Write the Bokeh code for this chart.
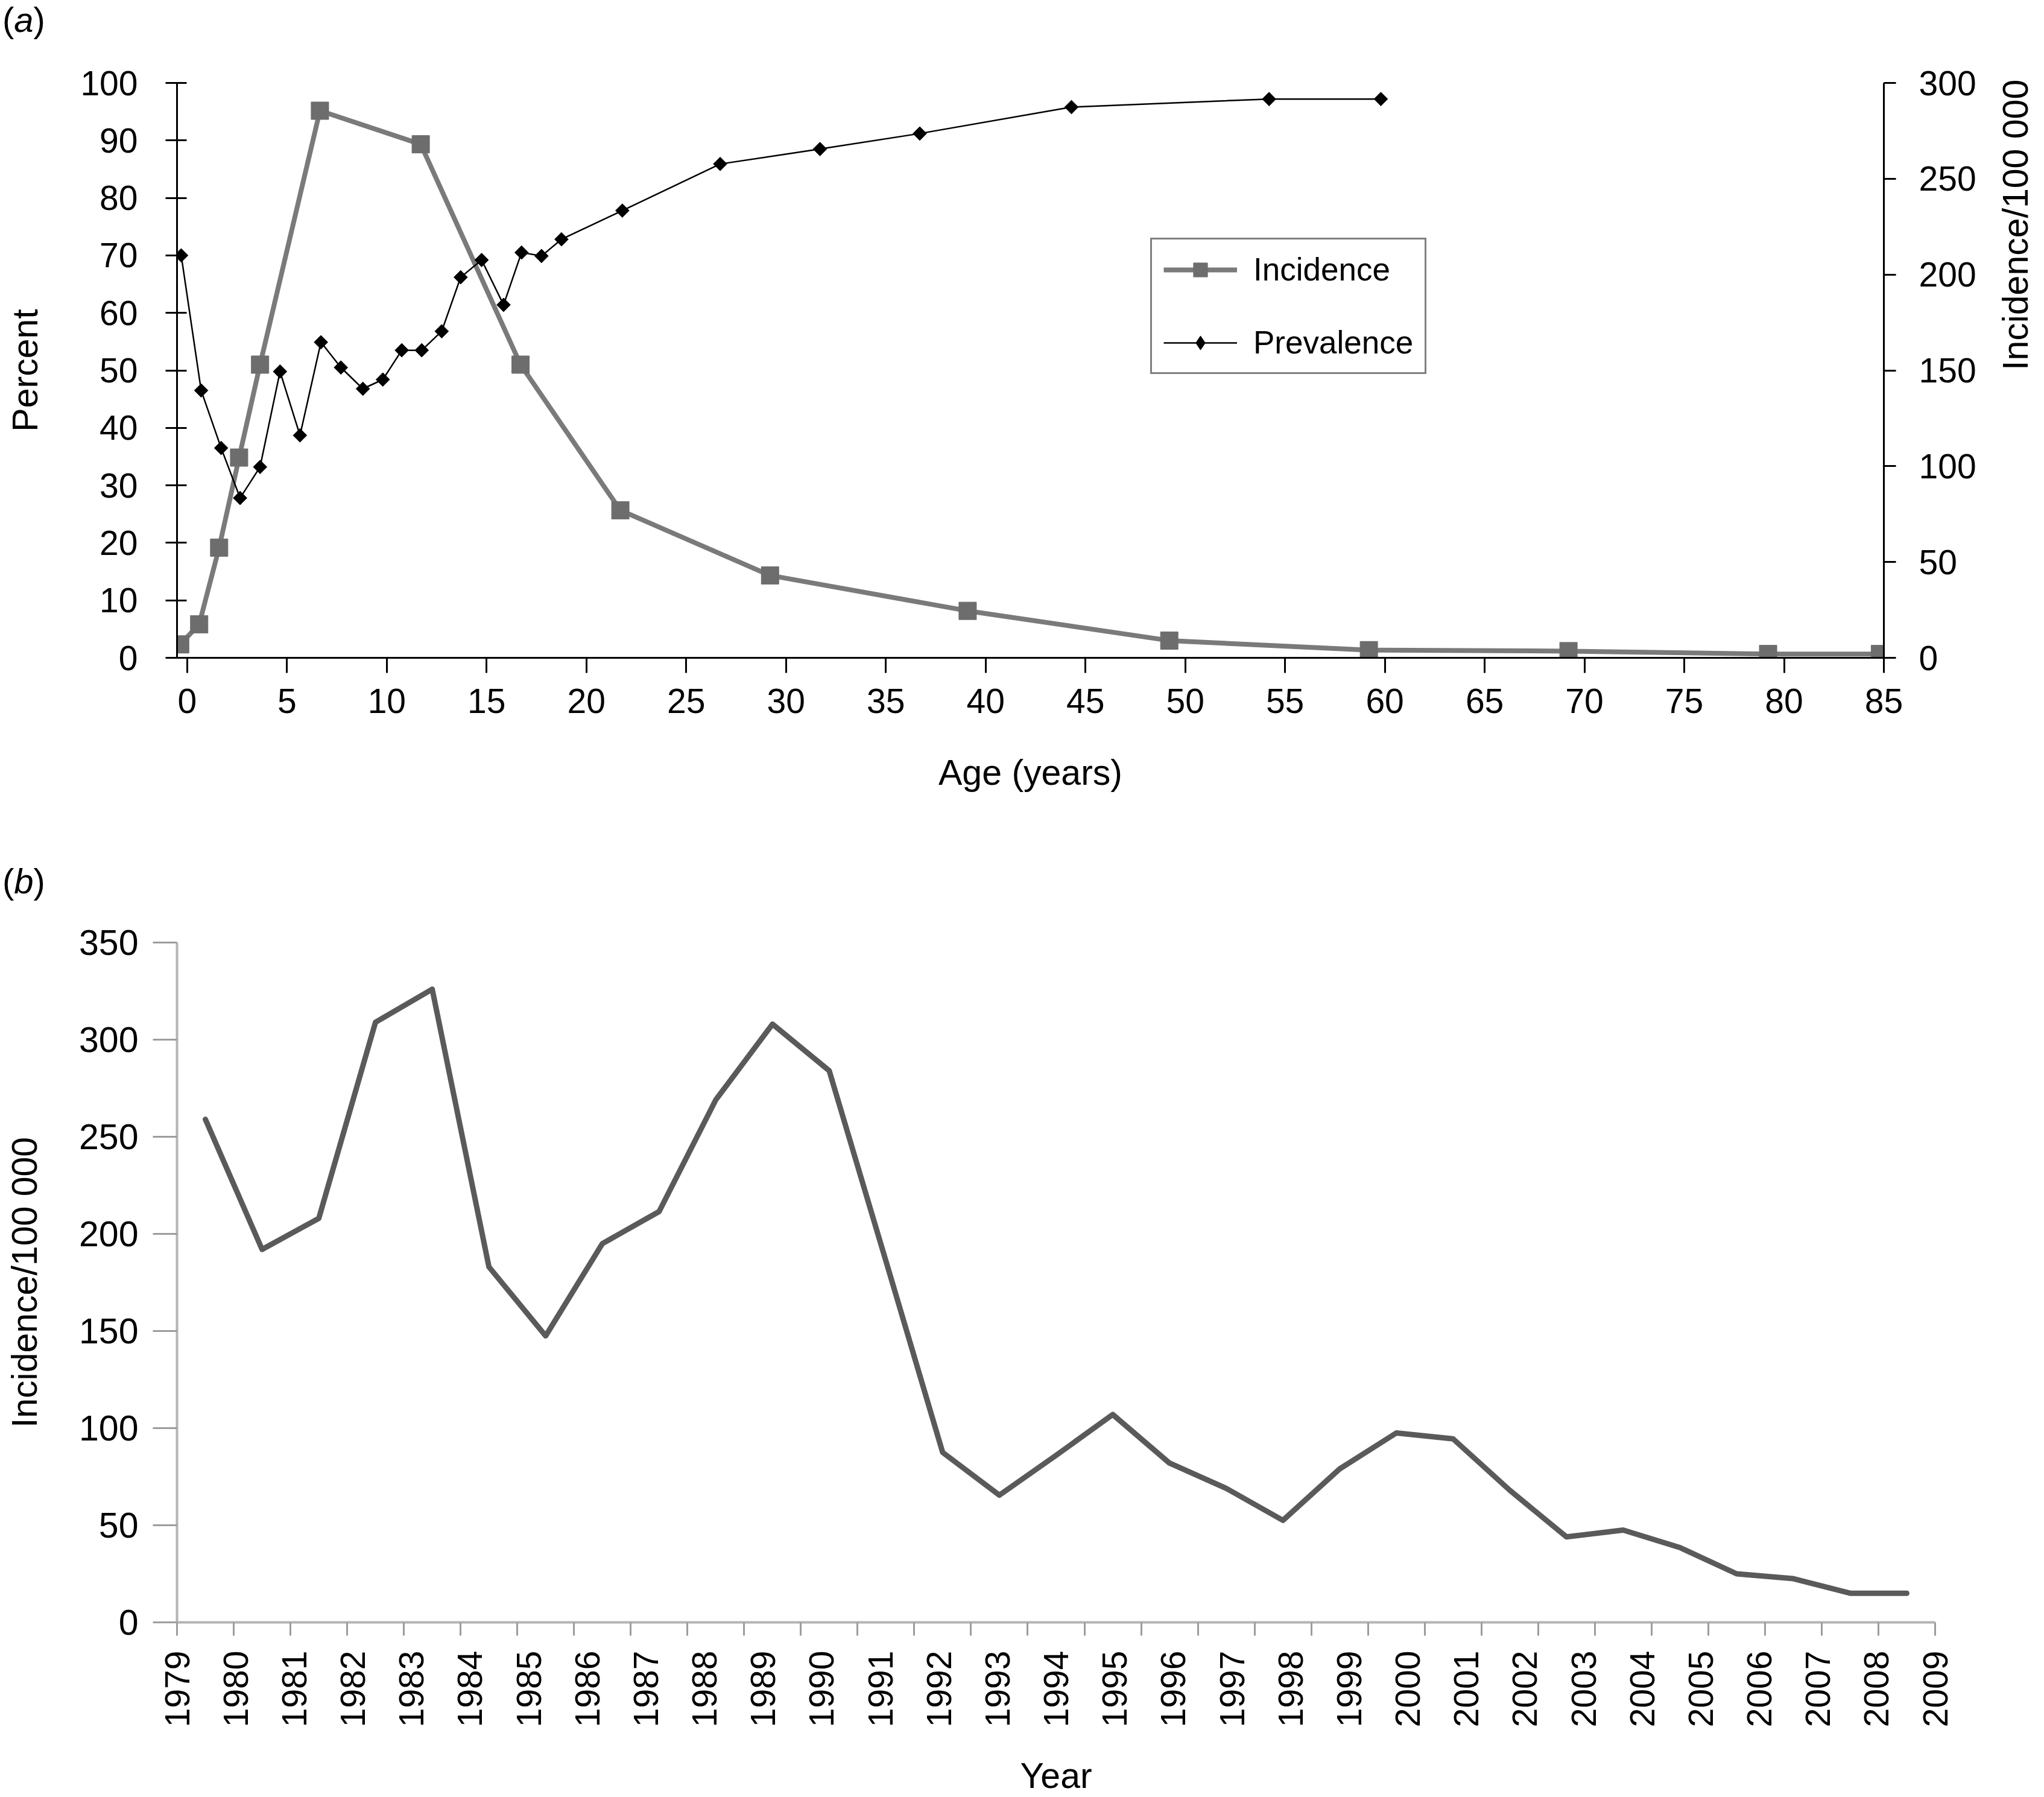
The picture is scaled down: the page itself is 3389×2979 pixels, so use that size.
import math
from bokeh.plotting import figure
from bokeh.models import (Range1d, LinearAxis, FixedTicker, Legend, LegendItem,
                          CustomJSTickFormatter, Div)
from bokeh.layouts import column
from bokeh.embed import file_html
from bokeh.resources import INLINE

# ---------------- data: panel (a) ----------------
ages_incidence = [-0.35, 0.6, 1.6, 2.6, 3.65, 6.65, 11.7, 16.7, 21.7, 29.2, 39.1,
                  49.2, 59.2, 69.2, 79.2, 84.8]
incidence_rate = [7, 17.5, 57.5, 104.5, 153, 285.5, 268, 153, 77, 43, 24.5,
                  9, 4, 3.5, 2, 2]
ages_prevalence = [-0.3, 0.7, 1.7, 2.65, 3.65, 4.65, 5.65, 6.7, 7.7, 8.8, 9.8,
                   10.75, 11.75, 12.75, 13.7, 14.75, 15.85, 16.75, 17.75, 18.75,
                   21.8, 26.7, 31.7, 36.7, 44.3, 54.2, 59.8]
prevalence_pct = [70, 46.5, 36.5, 27.8, 33.2, 49.8, 38.7, 54.9, 50.5, 46.8, 48.4,
                  53.5, 53.5, 56.8, 66.2, 69.2, 61.4, 70.5, 69.9, 72.8,
                  77.8, 85.9, 88.5, 91.2, 95.8, 97.2, 97.2]
age_ticks = list(range(0, 90, 5))
pct_ticks = list(range(0, 101, 10))
inc_ticks = list(range(0, 301, 50))

# ---------------- data: panel (b) ----------------
years = list(range(1979, 2010))
year_labels = [str(y) for y in years]
yearly_incidence = [259, 192, 208, 309, 326, 183, 147.5, 195, 211.5, 269, 308,
                    284, 186, 87.5, 65.5, 86, 107, 82, 69, 52.5, 79, 97.5, 94.5,
                    68, 44, 47.5, 38.5, 25, 22.5, 15, 15]
year_inc_ticks = list(range(0, 351, 50))

SANS = "'Liberation Sans', Arial, sans-serif"


def panel_letter(letter, height, pad_top):
    html = ('<div style="font-family: \'Liberation Sans\', Arial, sans-serif; '
            'font-size: 58px; line-height: 66px; color: black; '
            'padding-left: 4px; padding-top: %dpx;">(<i>%s</i>)</div>' % (pad_top, letter))
    return Div(text=html, width=300, height=height, margin=0,
               styles={"font-size": "58px", "line-height": "66px",
                       "font-family": "'Liberation Sans', Arial, sans-serif",
                       "color": "black"})


# ================= panel (a) =================
p1 = figure(frame_width=2830, frame_height=953,
            min_border_left=293, min_border_right=262,
            min_border_top=67, min_border_bottom=330,
            x_range=Range1d(-0.51, 85), y_range=Range1d(0, 100),
            output_backend="svg", toolbar_location=None)
p1.extra_y_ranges = {"inc": Range1d(0, 300)}
p1.outline_line_color = None
p1.xgrid.visible = False
p1.ygrid.visible = False
p1.background_fill_color = "white"
p1.border_fill_color = "white"


def style_black(ax):
    ax.axis_line_color = "black"
    ax.axis_line_width = 3
    ax.major_tick_line_color = "black"
    ax.major_tick_line_width = 3
    ax.minor_tick_line_color = None
    ax.major_label_text_font = SANS
    ax.major_label_text_font_size = "57px"
    ax.major_label_text_color = "black"
    ax.axis_label_text_font = SANS
    ax.axis_label_text_font_size = "59px"
    ax.axis_label_text_font_style = "normal"
    ax.axis_label_text_color = "black"


xa = p1.xaxis[0]
style_black(xa)
xa.ticker = FixedTicker(ticks=age_ticks)
xa.major_tick_out = 25
xa.major_tick_in = 0
xa.major_label_standoff = 26
xa.axis_label = "Age (years)"
xa.axis_label_standoff = 63

ya = p1.yaxis[0]
style_black(ya)
ya.ticker = FixedTicker(ticks=pct_ticks)
ya.major_tick_out = 19
ya.major_tick_in = 16
ya.major_label_standoff = 46
ya.axis_label = "Percent"
ya.axis_label_standoff = 55

ra = LinearAxis(y_range_name="inc")
style_black(ra)
ra.ticker = FixedTicker(ticks=inc_ticks)
ra.major_tick_out = 20
ra.major_tick_in = 0
ra.major_label_standoff = 38
ra.axis_label = "Incidence/100 000"
ra.axis_label_standoff = 62
ra.axis_label_orientation = math.pi / 2
p1.add_layout(ra, "right")

inc_line = p1.line(ages_incidence, incidence_rate, y_range_name="inc",
                   line_color="#7a7a7a", line_width=8)
inc_pts = p1.scatter(ages_incidence, incidence_rate, y_range_name="inc",
                     marker="square", size=29, fill_color="#6d6d6d",
                     line_color="#6d6d6d")
prev_line = p1.line(ages_prevalence, prevalence_pct, line_color="black",
                    line_width=2.5)
prev_pts = p1.scatter(ages_prevalence, prevalence_pct, marker="square",
                      angle=math.pi / 4, size=16, fill_color="black",
                      line_color="black")
# diamond glyph for the legend key, drawn inside the rotated squares
prev_key = p1.scatter(ages_prevalence, prevalence_pct, marker="diamond", size=22,
                      fill_color="black", line_color="black")

legend = Legend(items=[LegendItem(label="Incidence", renderers=[inc_line, inc_pts]),
                       LegendItem(label="Prevalence", renderers=[prev_line, prev_key])],
                location=(1614, 470))
legend.label_text_font = SANS
legend.label_text_font_size = "53px"
legend.label_text_color = "black"
legend.glyph_width = 122
legend.glyph_height = 58
legend.label_height = 58
legend.label_standoff = 27
legend.spacing = 60
legend.padding = 19
legend.margin = 0
legend.border_line_color = "black"
legend.border_line_width = 3
legend.background_fill_color = "white"
legend.background_fill_alpha = 1
p1.add_layout(legend)

# ================= panel (b) =================
p2 = figure(frame_width=2915, frame_height=1127,
            min_border_left=293, min_border_right=173,
            min_border_top=62, min_border_bottom=288,
            x_range=Range1d(0, len(years)), y_range=Range1d(0, 350),
            output_backend="svg", toolbar_location=None)
p2.outline_line_color = None
p2.xgrid.visible = False
p2.ygrid.visible = False
p2.background_fill_color = "white"
p2.border_fill_color = "white"

x_mid = [i + 0.5 for i in range(len(years))]
p2.line(x_mid, yearly_incidence, line_color="#5a5a5a", line_width=9,
        line_join="round", line_cap="round")

n = len(years)
label_pos = [k * n / (n - 1) for k in range(n)]
bx = p2.xaxis[0]
bx.ticker = FixedTicker(ticks=label_pos, minor_ticks=list(range(n + 1)))
bx.formatter = CustomJSTickFormatter(args=dict(labels=year_labels),
                                     code="return labels[index];")
bx.axis_line_color = "#b4b4b4"
bx.axis_line_width = 4
bx.major_tick_line_color = None
bx.major_tick_out = 22
bx.major_tick_in = 0
bx.minor_tick_line_color = "#9c9c9c"
bx.minor_tick_line_width = 3
bx.minor_tick_out = 22
bx.minor_tick_in = 0
bx.major_label_orientation = math.pi / 2
bx.major_label_text_font = SANS
bx.major_label_text_font_size = "57px"
bx.major_label_text_color = "black"
bx.major_label_standoff = 25
bx.axis_label = "Year"
bx.axis_label_text_font = SANS
bx.axis_label_text_font_size = "59px"
bx.axis_label_text_font_style = "normal"
bx.axis_label_text_color = "black"
bx.axis_label_standoff = 45

by = p2.yaxis[0]
by.ticker = FixedTicker(ticks=year_inc_ticks)
by.axis_line_color = "#b4b4b4"
by.axis_line_width = 4
by.major_tick_line_color = "#9c9c9c"
by.major_tick_line_width = 3
by.major_tick_out = 40
by.major_tick_in = 0
by.minor_tick_line_color = None
by.major_label_text_font = SANS
by.major_label_text_font_size = "59px"
by.major_label_text_color = "black"
by.major_label_standoff = 24
by.axis_label = "Incidence/100 000"
by.axis_label_text_font = SANS
by.axis_label_text_font_size = "59px"
by.axis_label_text_font_style = "normal"
by.axis_label_text_color = "black"
by.axis_label_standoff = 54

layout = column(panel_letter("a", 70, 0), p1, panel_letter("b", 80, 8), p2, spacing=0)
open("out.html", "w").write(file_html(layout, INLINE))
